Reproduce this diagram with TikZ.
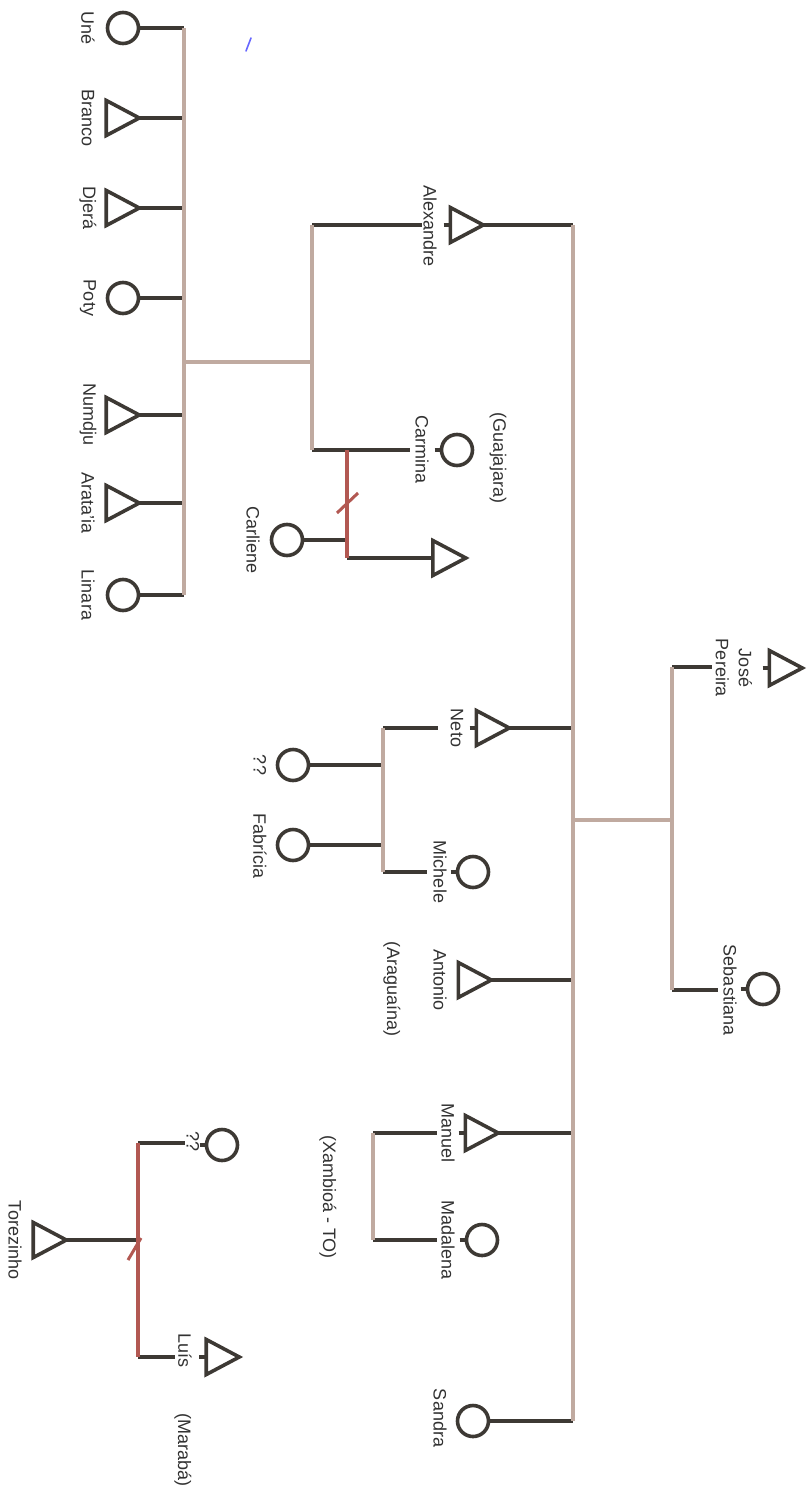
\documentclass[tikz,border=0pt]{standalone}
\usepackage{fontspec}
\setmainfont{Liberation Sans}
\usetikzlibrary{shapes.geometric}
\definecolor{ink}{RGB}{61,57,52}
\definecolor{tanl}{RGB}{192,170,160}
\definecolor{redl}{RGB}{178,88,82}
\definecolor{txt}{RGB}{50,50,50}
\begin{document}
\begin{tikzpicture}[x=1pt,y=-1pt,
  fem/.style={circle, draw=ink, line width=3.6pt, minimum size=31pt, inner sep=0pt},
  male/.style={isosceles triangle, isosceles triangle stretches, draw=ink, line width=3.6pt,
     minimum width=35pt, minimum height=33pt, inner sep=0pt},
  darkl/.style={draw=ink, line width=3.8pt},
  tanline/.style={draw=tanl, line width=3.8pt},
  redline/.style={draw=redl, line width=3.8pt},
  lab/.style={rotate=-90, text=txt, font=\fontsize{18}{23}\selectfont, inner sep=0pt, align=center}]
\useasboundingbox (0,0) rectangle (807,1490);

% ---------- left sibling group ----------
\coordinate (a1) at (184,28);
\coordinate (a2) at (184,118);
\coordinate (a3) at (184,208);
\coordinate (a4) at (184,298);
\coordinate (a5) at (184,415);
\coordinate (a6) at (184,503);
\coordinate (a7) at (184,595);
\coordinate (am) at (184,362);

\node[fem] (une) at (123,28) {};
\node[male, anchor=apex] (branco) at (144,118) {};
\node[male, anchor=apex] (djera) at (144,208) {};
\node[fem] (poty) at (123,298) {};
\node[male, anchor=apex] (numdju) at (144,415) {};
\node[male, anchor=apex] (arataia) at (144,503) {};
\node[fem] (linara) at (123,595) {};

\node[lab] (lune) at (88,28) {Uné};
\node[lab] (lbranco) at (88,118) {Branco};
\node[lab] (ldjera) at (88,208) {Djerá};
\node[lab] (lpoty) at (88,298) {Poty};
\node[lab] (lnumdju) at (88,415) {Numdju};
\node[lab] (larataia) at (88,503) {Arata'ia};
\node[lab] (llinara) at (88,595) {Linara};

\draw[darkl] (une) -- (a1);
\draw[darkl] ([xshift=-4pt]branco.apex) -- (a2);
\draw[darkl] ([xshift=-4pt]djera.apex) -- (a3);
\draw[darkl] (poty) -- (a4);
\draw[darkl] ([xshift=-4pt]numdju.apex) -- (a5);
\draw[darkl] ([xshift=-4pt]arataia.apex) -- (a6);
\draw[darkl] (linara) -- (a7);
\draw[tanline] (a1) -- (a7);

% ---------- Alexandre / Carmina ----------
\coordinate (b1) at (312,225);
\coordinate (b2) at (312,450);
\coordinate (bm) at (312,362);
\coordinate (b1e) at (422,225);
\coordinate (b2e) at (410,450);
\draw[tanline] (am) -- (bm);

\node[male, anchor=apex] (alex) at (488,225) {};
\node[fem] (carmina) at (457,450) {};
\node[lab] (lalex) at (430,226) {Alexandre};
\node[lab] (lcarmina) at (422,450) {Carmina};
\node[lab] (lguaj) at (498,458) {(Guajajara)};

\draw[darkl] (b1) -- (b1e);
\draw[darkl] (b2) -- (b2e);
\draw[darkl] ([xshift=-5pt]alex.lower side) -- ([xshift=1pt]alex.lower side);
\draw[darkl] ([xshift=-5pt]carmina.west) -- ([xshift=1pt]carmina.west);
\draw[tanline] (b1) -- (b2);

% Carliene couple
\coordinate (r1) at (347,450);
\coordinate (r2) at (347,540);
\coordinate (r3) at (347,558);
\node[fem] (carliene) at (287,540) {};
\node[lab] (lcarliene) at (253,540) {Carliene};
\node[male, anchor=lower side] (crson) at (431,558) {};
\draw[darkl] (carliene) -- (r2);
\draw[darkl] (r3) -- ([xshift=1pt]crson.lower side);
\draw[redline] (r1) -- (r3);
\coordinate (s1a) at (337,513);
\coordinate (s1b) at (358,493);
\draw[redline, line width=3pt] (s1a) -- (s1b);

% ---------- main sibling line ----------
\coordinate (m1) at (573,225);
\coordinate (m2) at (573,728);
\coordinate (mm) at (573,820);
\coordinate (m3) at (573,980);
\coordinate (m4) at (573,1133);
\coordinate (m5) at (573,1421);

\draw[darkl] ([xshift=-4pt]alex.apex) -- (m1);

% Neto
\node[male, anchor=apex] (neto) at (514,728) {};
\node[lab] (lneto) at (457,728) {Neto};
\coordinate (n1) at (383,728);
\coordinate (n1e) at (438,728);
\coordinate (n2) at (383,765);
\coordinate (n3) at (383,845);
\coordinate (n4) at (383,872);
\coordinate (n4e) at (427,872);
\draw[darkl] ([xshift=-4pt]neto.apex) -- (m2);
\draw[darkl] (n1) -- (n1e);
\draw[darkl] ([xshift=-5pt]neto.lower side) -- ([xshift=1pt]neto.lower side);

\node[fem] (unk1) at (293,765) {};
\node[lab] (lunk1) at (260,765) {??};
\node[fem] (fabricia) at (293,845) {};
\node[lab] (lfabricia) at (260,846) {Fabrícia};
\node[fem] (michele) at (473,872) {};
\node[lab] (lmichele) at (440,872) {Michele};
\draw[darkl] (unk1) -- (n2);
\draw[darkl] (fabricia) -- (n3);
\draw[darkl] (n4) -- (n4e);
\draw[darkl] ([xshift=-5pt]michele.west) -- ([xshift=1pt]michele.west);
\draw[tanline] (n1) -- (n4);

% Antonio
\node[male, anchor=apex] (antonio) at (496,980) {};
\node[lab] (lantonio) at (440,980) {Antonio};
\node[lab] (laragu) at (392,989) {(Araguaína)};
\draw[darkl] ([xshift=-4pt]antonio.apex) -- (m3);

% Parents
\coordinate (p1) at (672,667);
\coordinate (pm) at (672,820);
\coordinate (p2) at (672,990);
\coordinate (p1e) at (712,667);
\coordinate (p2e) at (718,990);
\node[male, anchor=apex] (jose) at (807,668) {};
\node[lab] (ljose) at (734,668) {José\\Pereira};
\node[fem] (sebastiana) at (763,989) {};
\node[lab] (lsebast) at (730,990) {Sebastiana};
\draw[darkl] (p1) -- (p1e);
\draw[darkl] (p2) -- (p2e);
\draw[darkl] ([xshift=-5pt]jose.lower side) -- ([xshift=1pt]jose.lower side);
\draw[darkl] ([xshift=-5pt]sebastiana.west) -- ([xshift=1pt]sebastiana.west);
\draw[tanline] (mm) -- (pm);
\draw[tanline] (p1) -- (p2);

% Manuel / Madalena
\node[male, anchor=apex] (manuel) at (503,1133) {};
\node[lab] (lmanuel) at (448,1133) {Manuel};
\node[fem] (madalena) at (482,1240) {};
\node[lab] (lmadalena) at (448,1240) {Madalena};
\node[lab] (lxamb) at (328,1197) {(Xambioá - TO)};
\coordinate (q1) at (373,1133);
\coordinate (q2) at (373,1240);
\coordinate (q1e) at (437,1133);
\coordinate (q2e) at (437,1240);
\draw[darkl] ([xshift=-4pt]manuel.apex) -- (m4);
\draw[darkl] (q1) -- (q1e);
\draw[darkl] (q2) -- (q2e);
\draw[darkl] ([xshift=-5pt]manuel.lower side) -- ([xshift=1pt]manuel.lower side);
\draw[darkl] ([xshift=-5pt]madalena.west) -- ([xshift=1pt]madalena.west);
\draw[tanline] (q1) -- (q2);

% Sandra
\node[fem] (sandra) at (473,1421) {};
\node[lab] (lsandra) at (440,1418) {Sandra};
\draw[darkl] (sandra) -- (m5);

\draw[tanline] (m1) -- (m5);

% ---------- bottom-left group ----------
\coordinate (t1) at (138,1143);
\coordinate (t2) at (138,1240);
\coordinate (t3) at (138,1357);
\coordinate (t1e) at (185,1143);
\coordinate (t3e) at (175,1357);
\node[fem] (unk2) at (222,1145) {};
\node[lab] (lunk2) at (193,1141) {??};
\node[male, anchor=apex] (torez) at (71,1240) {};
\node[lab] (ltorez) at (15,1240) {Torezinho};
\node[male, anchor=apex] (luis) at (244,1357) {};
\node[lab] (lluis) at (185,1350) {Luís};
\node[lab] (lmaraba) at (183,1450) {(Marabá)};
\draw[darkl] (t1) -- (t1e);
\draw[darkl] ([xshift=-4pt]torez.apex) -- (t2);
\draw[darkl] (t3) -- (t3e);
\draw[darkl] ([xshift=-5pt]unk2.west) -- ([xshift=1pt]unk2.west);
\draw[darkl] ([xshift=-5pt]luis.lower side) -- ([xshift=1pt]luis.lower side);
\draw[redline] (t1) -- (t3);
\coordinate (s2a) at (128,1260);
\coordinate (s2b) at (141,1238);
\draw[redline, line width=3pt] (s2a) -- (s2b);

% stray blue pen mark
\coordinate (bl1) at (246,51);
\coordinate (bl2) at (251,38);
\draw[blue!60, line width=1.6pt, line cap=round] (bl1) -- (bl2);
\end{tikzpicture}
\end{document}
